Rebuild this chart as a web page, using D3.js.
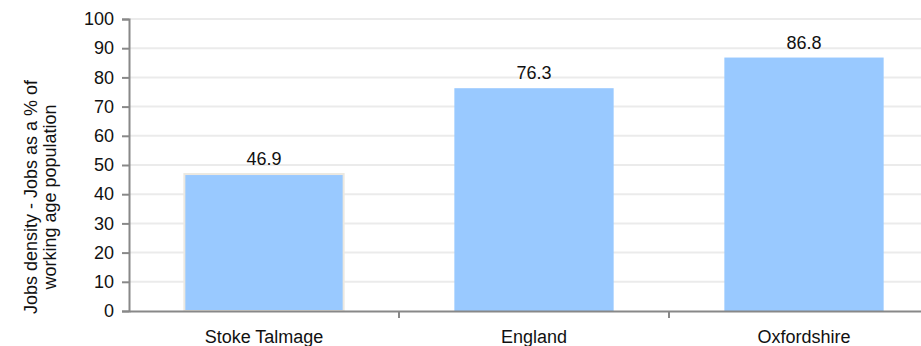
<!DOCTYPE html>
<html><head><meta charset="utf-8">
<script src="https://cdn.jsdelivr.net/npm/d3@7"></script>
<style>body{margin:0;background:#fff}svg{display:block;font-family:"Liberation Sans",Arial,sans-serif}</style>
</head><body><svg id="c" width="921" height="346"></svg>
<script>
const categories = ["Stoke Talmage","England","Oxfordshire"];
const values = [46.9, 76.3, 86.8];
const yTicks = [0,10,20,30,40,50,60,70,80,90,100];
const yTitle = ["Jobs density - Jobs as a % of","working age population"];

const FS = 18;
const svg = d3.select("#c");
const x0 = 129, x1 = 939, yTop = 19, yBot = 311;
const x = d3.scaleBand().domain(categories).range([x0, x1]).paddingInner(0.41).paddingOuter(0.205);
const y = d3.scaleLinear().domain([0,100]).range([yBot, yTop]);

// gridlines
svg.append("g").selectAll("line").data(yTicks.filter(d=>d>0)).join("line")
  .attr("x1", x0).attr("x2", 921).attr("y1", d=>y(d)).attr("y2", d=>y(d))
  .attr("stroke", "#ebebeb").attr("stroke-width", 2);

// bars
svg.append("g").selectAll("rect").data(values).join("rect")
  .attr("x", (d,i)=>x(categories[i])).attr("width", x.bandwidth())
  .attr("y", d=>y(d)).attr("height", d=>yBot - y(d))
  .attr("fill", "#99c9ff")
  .attr("stroke", (d,i)=> i===0 ? "#ece8e0" : "none").attr("stroke-width", 2);

// value labels
svg.append("g").selectAll("text").data(values).join("text")
  .attr("x", (d,i)=>x(categories[i]) + x.bandwidth()/2)
  .attr("y", d=>y(d) - 9)
  .attr("text-anchor","middle").attr("font-size", FS).attr("fill","#111")
  .text(d=>d.toFixed(1));

// y axis
const ya = svg.append("g").attr("transform", `translate(${x0},0)`)
  .call(d3.axisLeft(y).tickValues(yTicks).tickSize(7).tickPadding(8).tickFormat(d3.format("d")));
ya.select(".domain").attr("stroke","#888").attr("stroke-width",2);
ya.selectAll(".tick line").attr("stroke","#888").attr("stroke-width",2);
ya.selectAll("text").attr("font-size",FS).attr("fill","#111").attr("font-family","Liberation Sans, Arial, sans-serif");

// x axis
const xa = svg.append("g").attr("transform", `translate(0,${yBot})`)
  .call(d3.axisBottom(x).tickSize(0).tickPadding(19));
xa.select(".domain").attr("stroke","#888").attr("stroke-width",2);
xa.selectAll("text").attr("font-size",FS).attr("fill","#111").attr("font-family","Liberation Sans, Arial, sans-serif");
// category boundary ticks
const bounds = categories.slice(1).map(c => x(c) - x.step()*x.paddingInner()/2);
svg.append("g").selectAll("line").data(bounds).join("line")
  .attr("x1", d=>d).attr("x2", d=>d).attr("y1", yBot).attr("y2", yBot+7)
  .attr("stroke","#888").attr("stroke-width",2);

// y title
const t = svg.append("text").attr("transform", "translate(40,197) rotate(-90)")
  .attr("text-anchor","middle").attr("font-size",FS).attr("fill","#111");
t.selectAll("tspan").data(yTitle).join("tspan").attr("x",0).attr("dy",(d,i)=> i===0 ? "-0.15em" : "1.05em").text(d=>d);
</script></body></html>
